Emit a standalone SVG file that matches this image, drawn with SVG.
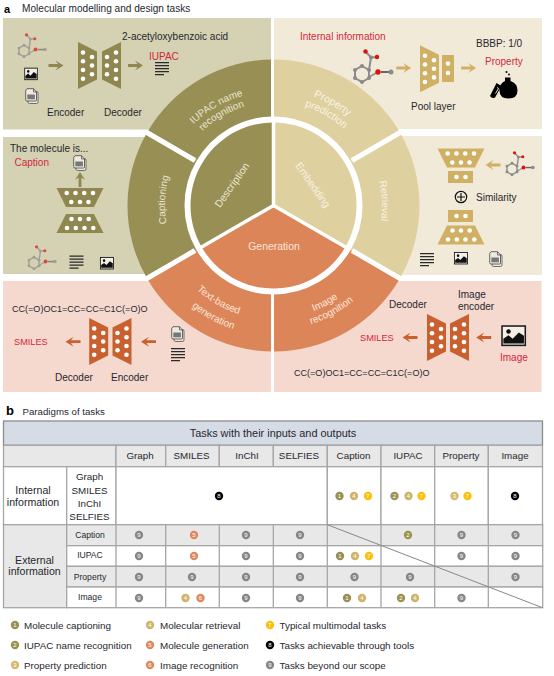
<svg xmlns="http://www.w3.org/2000/svg" width="554" height="676" viewBox="0 0 554 676">
<style>
text{font-family:"Liberation Sans",Arial,sans-serif;fill:#26282e;font-size:10px}
.r{fill:#d2283c}
.m{text-anchor:middle}
.wo{fill:#e9e6cf;text-anchor:middle}
.wt{fill:#f8f3e4;text-anchor:middle}
.wg{fill:#fbe6da;text-anchor:middle}
.o{fill:#988f55}.t{fill:#dfd0a0}.g{fill:#db8558}
.so{fill:#8f8650}.st{fill:#cfb065}.sg{fill:#c9602f}
.cell{fill:#fff;stroke:#a6a6a6;stroke-width:1.3}
.grey{fill:#e8e8e8;stroke:#a6a6a6;stroke-width:1.3}
.th{font-size:9.8px;text-anchor:middle}
.tw{font-size:10.6px;text-anchor:middle}
.rl{font-size:8.6px;text-anchor:middle}
.bn{font-size:6px;fill:#fff;text-anchor:middle}
.c1{fill:#988f55}.c2{fill:#9a9350}.c3{fill:#d8b86f}.c4{fill:#cdb46a}.c5{fill:#df8a5e}.c6{fill:#df8a5e}.c7{fill:#fcc00a}.c8{fill:#000}.c9{fill:#868686}
.lg{font-size:9.85px}
.sm{font-size:9.05px}
</style>
<defs>
<g id="trap"><polygon points="-9.500,-23.500 9.500,-14 9.500,14 -9.500,23.500"/><g fill="#fff"><circle cx="-4.500" cy="-13" r="2.300"/><circle cx="-4.500" cy="-4.200" r="2.300"/><circle cx="-4.500" cy="4.500" r="2.300"/><circle cx="-4.500" cy="13.300" r="2.300"/><circle cx="4.500" cy="-8.500" r="2.300"/><circle cx="4.500" cy="0" r="2.300"/><circle cx="4.500" cy="8.700" r="2.300"/></g></g>
<path id="arr" d="M-7.500-1.400H2L-.5-5L7.500 0L-.5 5L2 1.400H-7.500Z"/>
<g id="mol"><g fill="#e6e0d0"><circle cx="-11" cy="-6" r="1"/><circle cx="-11" cy="7" r="1"/><circle cx="0" cy="12" r="1"/><circle cx="30" cy="-7" r="1"/><circle cx="34" cy="0" r="1"/><circle cx="28" cy="3" r="1"/></g><g fill="none" stroke="#8d8d8d" stroke-width="2"><polygon points="0,-8 7,-4 7,4 0,8 -7,4 -7,-4"/><path d="M7-4L9-16.500M9-16.500L3.500-22.500M9-16.500L15-17"/></g><path d="M7 3L16-2" stroke="#8d8d8d" stroke-width="1.500"/><path d="M19-2H29" stroke="#666" stroke-width="2"/><g fill="#8a8a8a"><circle cx="0" cy="-8" r="2"/><circle cx="7" cy="-4" r="2"/><circle cx="7" cy="4" r="2"/><circle cx="0" cy="8" r="2"/><circle cx="-7" cy="4" r="2"/><circle cx="-7" cy="-4" r="2"/><circle cx="9" cy="-16.500" r="2"/><circle cx="29" cy="-2" r="2.500"/></g><g fill="#e01010"><circle cx="3.500" cy="-22.500" r="2.200"/><circle cx="15" cy="-17" r="2.200"/><circle cx="16" cy="-2" r="2.700"/></g></g>
<g id="img"><rect x="0.700" y="0.700" width="22.600" height="18.600" fill="#f4f0e6" stroke="#1c1c1c" stroke-width="1.500"/><path d="M2 17.500V13L7 9.500L11 13L17 7L22 10V17.500Z" fill="#111"/><circle cx="7" cy="6" r="2.200" fill="#111"/></g>
<g id="doc"><rect x="3" y="3.500" width="10" height="12" rx="1.500" fill="#e8e4d8" stroke="#555" stroke-width=".8"/><path d="M1.500 1.500Q.7 1.500 .7 2.500V11.500Q.7 13 2 13H10.500Q11.500 13 11.500 12V4L8.500 .7H2Z" fill="#eeeae0" stroke="#444" stroke-width=".8"/><rect x="2.300" y="6.500" width="7.600" height="4.800" fill="#777"/><path d="M8.500 .7V4H11.500" fill="none" stroke="#444" stroke-width=".7"/></g>
<g id="lns" stroke="#2a2a2a" stroke-width="1.100"><path d="M0 .6H14M0 3.600H14M0 6.600H14M0 9.600H14M0 12.600H9"/></g>
<path id="a1" d="M174.800 148.500A114 114 0 0 1 273.500 91.500"/>
<path id="a2" d="M184.300 154A103 103 0 0 1 273.500 102.500"/>
<path id="a3" d="M273.500 89.500A116 116 0 0 1 373.960 147.500"/>
<path id="a4" d="M273.500 101.500A104 104 0 0 1 363.570 153.500"/>
<path id="a5" d="M176.800 254.800A108.500 108.500 0 0 1 182.500 146.400"/>
<path id="a6" d="M365.100 147.300A108.500 108.500 0 0 1 369.600 255.700"/>
<path id="a7" d="M174.800 262.500A114 114 0 0 0 273.500 319.500"/>
<path id="a8" d="M162.600 273.400A130 130 0 0 0 276.900 335.500"/>
<path id="a9" d="M269.200 318.400A113 113 0 0 0 369.100 265.700"/>
<path id="a10" d="M270.900 330A124.500 124.500 0 0 0 379.900 270"/>
</defs>
<rect width="554" height="676" fill="#fff"/>

<g id="header-a"><text x="4" y="12.500" style="font-weight:700;font-size:11px;fill:#000">a</text><text x="22" y="12" style="font-size:10.100px">Molecular modelling and design tasks</text></g>

<g id="panels">
<rect x="3" y="18" width="268" height="111.500" fill="#d5d1b3"/>
<rect x="3" y="137" width="268" height="137" fill="#d5d1b3"/>
<rect x="274" y="18" width="268" height="111" fill="#f2ead9"/>
<rect x="274" y="136" width="268" height="139" fill="#f2ead9"/>
<rect x="3" y="281" width="268" height="111" fill="#f5d9ce"/>
<rect x="274" y="281" width="267.500" height="111" fill="#f5d9ce"/>
</g>

<g id="wheel">
<circle cx="273.500" cy="205.500" r="92" fill="#fff"/>
<path id="sector-iupac" class="o" d="M147.060 132.500A146 146 0 0 1 273.500 59.500V116.500A89 89 0 0 0 196.420 161Z"/>
<path id="sector-captioning" class="o" d="M147.060 132.500A146 146 0 0 0 147.060 278.500L196.420 250A89 89 0 0 1 196.420 161Z"/>
<path id="sector-property" class="t" d="M273.500 59.500A146 146 0 0 1 399.940 132.500L350.580 161A89 89 0 0 0 273.500 116.500Z"/>
<path id="sector-retrieval" class="t" d="M399.940 132.500A146 146 0 0 1 399.940 278.500L350.580 250A89 89 0 0 0 350.580 161Z"/>
<path id="sector-text" class="g" d="M147.060 278.500A146 146 0 0 0 273.500 351.500V294.500A89 89 0 0 1 196.420 250Z"/>
<path id="sector-image" class="g" d="M273.500 351.500A146 146 0 0 0 399.940 278.500L350.580 250A89 89 0 0 1 273.500 294.500Z"/>
<path id="disc-description" class="o" d="M273.500 205.500V122.500A83 83 0 0 0 201.620 247Z"/>
<path id="disc-embedding" class="t" d="M273.500 205.500V122.500A83 83 0 0 1 345.380 247Z"/>
<path id="disc-generation" class="g" d="M273.500 205.500L345.380 247A83 83 0 0 1 201.620 247Z"/>
</g>
<g id="connectors-gaps" stroke="#fff" fill="none">
<path stroke-width="5" d="M195 160.500L146 132M352 160.500L401 132M195 250.500L146 279M352 250.500L401 279"/>
<path stroke-width="3" d="M272.500 55V118M272.500 293V356"/>
<path stroke-width="3.500" d="M273.500 205.500L199 248.500M273.500 205.500L348 248.500M273.500 120V205.500"/>
</g>
<g id="wheel-labels">
<text class="wo"><textPath href="#a1" startOffset="50%">IUPAC name</textPath></text>
<text class="wo"><textPath href="#a2" startOffset="50%">recognition</textPath></text>
<text class="wo"><textPath href="#a5" startOffset="50%">Captioning</textPath></text>
<text class="wt" style="font-size:10.500px"><textPath href="#a3" startOffset="50%">Property</textPath></text>
<text class="wt" style="font-size:10.500px"><textPath href="#a4" startOffset="50%">prediction</textPath></text>
<text class="wt"><textPath href="#a6" startOffset="50%">Retrieval</textPath></text>
<text class="wg"><textPath href="#a7" startOffset="50%">Text-based</textPath></text>
<text class="wg"><textPath href="#a8" startOffset="50%">generation</textPath></text>
<text class="wg"><textPath href="#a9" startOffset="50%">Image</textPath></text>
<text class="wg"><textPath href="#a10" startOffset="50%">recognition</textPath></text>
<text class="wo" transform="translate(234.900,187) rotate(-55)" style="font-size:10.400px">Description</text>
<text class="wt" transform="translate(310,187) rotate(55)" style="font-size:10.400px">Embedding</text>
<text class="wg" x="274" y="249.500" style="font-size:10.400px">Generation</text>
</g>

<g id="node-iupac-task">
<use href="#mol" transform="translate(24,51) scale(.72)" opacity=".7"/>
<use href="#img" transform="translate(24.300,67.700) scale(.56,.62)"/>
<use href="#doc" transform="translate(25,88)"/>
<use href="#arr" class="so" x="56" y="65.500"/>
<use href="#trap" class="so" transform="translate(87.500,65.500)"/>
<use href="#trap" class="so" transform="translate(111.500,65.500) scale(-1,1)"/>
<use href="#arr" class="so" x="135.500" y="65.500"/>
<use href="#lns" transform="translate(155,62)"/>
<text x="122" y="40">2-acetyloxybenzoic acid</text>
<text class="r" x="149" y="60">IUPAC</text>
<text x="47" y="116">Encoder</text>
<text x="104" y="116">Decoder</text>
</g>
<g id="node-caption-task">
<text x="10" y="152">The molecule is...</text>
<text class="r" x="14.500" y="166">Caption</text>
<use href="#doc" transform="translate(73,155)"/>
<use href="#arr" class="so" transform="translate(80,179.500) rotate(-90)"/>
<use href="#trap" class="so" transform="translate(80,197.500) rotate(90)"/>
<use href="#trap" class="so" transform="translate(80,223.500) rotate(-90)"/>
<use href="#mol" transform="translate(34,263) scale(.72)" opacity=".7"/>
<use href="#lns" transform="translate(69.500,255.500)"/>
<use href="#img" transform="translate(100,257) scale(.58,.62)"/>
</g>
<g id="node-property-task">
<text class="r" x="300" y="40">Internal information</text>
<use href="#mol" transform="translate(362,74)"/>
<use href="#arr" class="st" x="403.700" y="68"/>
<use href="#trap" class="st" transform="translate(429.500,68.700)"/>
<rect class="st" x="442" y="55" width="12" height="27"/>
<circle cx="448" cy="63.500" r="2.300" fill="#fff"/><circle cx="448" cy="73" r="2.300" fill="#fff"/>
<use href="#arr" class="st" x="468.700" y="68"/>
<text x="476" y="47">BBBP: 1/0</text>
<text class="r" x="485" y="65">Property</text>
<path d="M505 77.500h5.500v3.500q7 2.500 7 9.500q0 8-9 8q-9 0-9-8q0-7 5.500-9.500z" fill="#000"/>
<path d="M496.500 83l5 3l-6.500 11.500q-3 1.500-5-1.500z" fill="#000"/>
<path d="M497 87.500l1.500 1l-3 5" stroke="#f2ead9" stroke-width="1" fill="none"/>
<circle cx="506.500" cy="72" r="1" fill="#000"/><circle cx="509" cy="74.500" r=".9" fill="#000"/>
<text x="411" y="110">Pool layer</text>
</g>
<g id="node-retrieval-task">
<use href="#trap" class="st" transform="translate(461,158) rotate(90)" />
<rect class="st" x="448" y="171" width="25" height="12"/>
<circle cx="456.500" cy="177" r="2.300" fill="#fff"/><circle cx="465.500" cy="177" r="2.300" fill="#fff"/>
<use href="#arr" class="st" transform="translate(493,165) scale(-1,1)"/>
<use href="#mol" transform="translate(512,169) scale(.72)"/>
<circle cx="461" cy="197" r="5.700" fill="none" stroke="#111" stroke-width="1.200"/><path d="M461 193V201M457 197H465" stroke="#111" stroke-width="1.200"/>
<text x="476" y="201">Similarity</text>
<rect class="st" x="448" y="210" width="25" height="12"/>
<circle cx="456.500" cy="216" r="2.300" fill="#fff"/><circle cx="465.500" cy="216" r="2.300" fill="#fff"/>
<use href="#trap" class="st" transform="translate(461,235) rotate(-90)"/>
<use href="#lns" transform="translate(420,253)"/>
<use href="#img" transform="translate(454,252) scale(.58,.62)"/>
<use href="#doc" transform="translate(489,251)"/>
</g>
<g id="node-text-generation-task">
<text class="sm" x="12" y="312">CC(=O)OC1=CC=CC=C1C(=O)O</text>
<text class="r" x="14" y="345" style="font-size:9.200px">SMILES</text>
<use href="#arr" class="sg" transform="translate(73,341.700) scale(-1,1)"/>
<use href="#trap" class="sg" transform="translate(98.700,341.500)"/>
<use href="#trap" class="sg" transform="translate(122,341.500) scale(-1,1)"/>
<use href="#arr" class="sg" transform="translate(148.500,341.700) scale(-1,1)"/>
<use href="#doc" transform="translate(171,326)"/>
<use href="#lns" transform="translate(171,348)"/>
<text x="55" y="381">Decoder</text>
<text x="111" y="381">Encoder</text>
</g>
<g id="node-image-recognition-task">
<text x="389" y="308">Decoder</text>
<text x="458" y="298">Image</text>
<text x="458" y="309.500">encoder</text>
<text class="r" x="360" y="341" style="font-size:9.200px">SMILES</text>
<use href="#arr" class="sg" transform="translate(410,337.500) scale(-1,1)"/>
<use href="#trap" class="sg" transform="translate(436.500,337.500)"/>
<use href="#trap" class="sg" transform="translate(459.500,337.500) scale(-1,1)"/>
<use href="#arr" class="sg" transform="translate(483.700,337.500) scale(-1,1)"/>
<use href="#img" transform="translate(501.300,325.300) scale(1.030,1.040)"/>
<text class="r" x="500" y="361">Image</text>
<text class="sm" x="294" y="376">CC(=O)OC1=CC=CC=C1C(=O)O</text>
</g>

<g id="header-b"><text x="6" y="415" style="font-weight:700;font-size:13px;fill:#000">b</text><text x="22.500" y="415" style="font-size:9.700px">Paradigms of tasks</text></g>

<g id="table">
<rect x="3.500" y="421" width="539" height="24.300" fill="#d6dce5" stroke="#8c8c8c" stroke-width="1.300"/>
<text class="m" x="273" y="437" style="font-size:10.900px">Tasks with their inputs and outputs</text>
<g id="row-head">
<rect class="grey" x="3.500" y="445.300" width="112.500" height="21.400"/>
<rect class="grey" x="116" y="445.300" width="49.700" height="21.400"/><rect class="grey" x="165.700" y="445.300" width="53.600" height="21.400"/><rect class="grey" x="219.300" y="445.300" width="54" height="21.400"/><rect class="grey" x="273.300" y="445.300" width="54" height="21.400"/><rect class="grey" x="327.300" y="445.300" width="53.700" height="21.400"/><rect class="grey" x="381" y="445.300" width="53.700" height="21.400"/><rect class="grey" x="434.700" y="445.300" width="53.600" height="21.400"/><rect class="grey" x="488.300" y="445.300" width="54.200" height="21.400"/>
<text class="th" x="140" y="459">Graph</text><text class="th" x="191.500" y="459">SMILES</text><text class="th" x="247" y="459">InChI</text><text class="th" x="299" y="459">SELFIES</text><text class="th" x="353.500" y="459">Caption</text><text class="th" x="408" y="459">IUPAC</text><text class="th" x="461" y="459">Property</text><text class="th" x="515" y="459">Image</text>
</g>
<g id="row-internal">
<rect class="cell" x="3.500" y="466.700" width="63.200" height="58"/><rect class="cell" x="66.700" y="466.700" width="49.300" height="58"/><rect class="cell" x="116" y="466.700" width="211.300" height="58"/><rect class="cell" x="327.300" y="466.700" width="53.700" height="58"/><rect class="cell" x="381" y="466.700" width="53.700" height="58"/><rect class="cell" x="434.700" y="466.700" width="53.600" height="58"/><rect class="cell" x="488.300" y="466.700" width="54.200" height="58"/>
<text class="tw" x="33" y="494">Internal</text><text class="tw" x="33" y="506">information</text>
<text class="th" x="89.500" y="480">Graph</text><text class="th" x="89.500" y="494">SMILES</text><text class="th" x="89.500" y="507">InChI</text><text class="th" x="89.500" y="520">SELFIES</text>
</g>
<g id="row-external">
<rect class="grey" x="3.500" y="524.700" width="63.200" height="83" />
<text class="tw" x="34.500" y="564">External</text><text class="tw" x="34.500" y="575">information</text>
<rect class="grey" x="66.700" y="524.700" width="476" height="21"/>
<rect class="cell" x="66.700" y="545.700" width="476" height="20.600"/>
<rect class="grey" x="66.700" y="566.300" width="476" height="20.700"/>
<rect class="cell" x="66.700" y="587" width="476" height="20.700"/>
<path d="M116 524.700V607.700M165.700 524.700V607.700M219.300 524.700V607.700M273.300 524.700V607.700M327.300 524.700V607.700M381 524.700V607.700M434.700 524.700V607.700M488.300 524.700V607.700" stroke="#a6a6a6" stroke-width="1.300" fill="none"/>
<path d="M327.300 524.700L542.500 607.700" stroke="#888" stroke-width="1" fill="none"/>
<text class="rl" x="90" y="538">Caption</text><text class="rl" x="90" y="558">IUPAC</text><text class="rl" x="90" y="580">Property</text><text class="rl" x="90" y="600">Image</text>
</g>
<g id="badges">
<g id="b-internal">
<circle class="c8" cx="219" cy="496" r="4.200"/><text class="bn" x="219" y="498.200">8</text>
<circle class="c1" cx="339.500" cy="496" r="4.200"/><text class="bn" x="339.500" y="498.200">1</text>
<circle class="c4" cx="354" cy="496" r="4.200"/><text class="bn" x="354" y="498.200">4</text>
<circle class="c7" cx="368" cy="496" r="4.200"/><text class="bn" x="368" y="498.200">7</text>
<circle class="c2" cx="394.500" cy="496" r="4.200"/><text class="bn" x="394.500" y="498.200">2</text>
<circle class="c4" cx="408.500" cy="496" r="4.200"/><text class="bn" x="408.500" y="498.200">4</text>
<circle class="c7" cx="421.500" cy="496" r="4.200"/><text class="bn" x="421.500" y="498.200">7</text>
<circle class="c3" cx="454.500" cy="496" r="4.200"/><text class="bn" x="454.500" y="498.200">3</text>
<circle class="c7" cx="467.500" cy="496" r="4.200"/><text class="bn" x="467.500" y="498.200">7</text>
<circle class="c8" cx="515" cy="496" r="4.200"/><text class="bn" x="515" y="498.200">8</text>
</g>
<g id="b-caption">
<circle class="c9" cx="139" cy="535" r="4.200"/><text class="bn" x="139" y="537.200">9</text>
<circle class="c5" cx="194" cy="535" r="4.200"/><text class="bn" x="194" y="537.200">5</text>
<circle class="c9" cx="246" cy="535" r="4.200"/><text class="bn" x="246" y="537.200">9</text>
<circle class="c9" cx="300" cy="535" r="4.200"/><text class="bn" x="300" y="537.200">9</text>
<circle class="c2" cx="408" cy="535" r="4.200"/><text class="bn" x="408" y="537.200">2</text>
<circle class="c9" cx="461.500" cy="535" r="4.200"/><text class="bn" x="461.500" y="537.200">9</text>
<circle class="c9" cx="515.500" cy="535" r="4.200"/><text class="bn" x="515.500" y="537.200">9</text>
</g>
<g id="b-iupac">
<circle class="c9" cx="139" cy="556" r="4.200"/><text class="bn" x="139" y="558.200">9</text>
<circle class="c5" cx="194" cy="556" r="4.200"/><text class="bn" x="194" y="558.200">5</text>
<circle class="c9" cx="246" cy="556" r="4.200"/><text class="bn" x="246" y="558.200">9</text>
<circle class="c9" cx="300" cy="556" r="4.200"/><text class="bn" x="300" y="558.200">9</text>
<circle class="c1" cx="340" cy="556" r="4.200"/><text class="bn" x="340" y="558.200">1</text>
<circle class="c4" cx="355" cy="556" r="4.200"/><text class="bn" x="355" y="558.200">4</text>
<circle class="c7" cx="369" cy="556" r="4.200"/><text class="bn" x="369" y="558.200">7</text>
<circle class="c9" cx="461.500" cy="556" r="4.200"/><text class="bn" x="461.500" y="558.200">9</text>
<circle class="c9" cx="515.500" cy="556" r="4.200"/><text class="bn" x="515.500" y="558.200">9</text>
</g>
<g id="b-property">
<circle class="c9" cx="139" cy="577" r="4.200"/><text class="bn" x="139" y="579.200">9</text>
<circle class="c9" cx="192" cy="577" r="4.200"/><text class="bn" x="192" y="579.200">9</text>
<circle class="c9" cx="246" cy="577" r="4.200"/><text class="bn" x="246" y="579.200">9</text>
<circle class="c9" cx="300" cy="577" r="4.200"/><text class="bn" x="300" y="579.200">9</text>
<circle class="c9" cx="354.500" cy="577" r="4.200"/><text class="bn" x="354.500" y="579.200">9</text>
<circle class="c9" cx="410" cy="577" r="4.200"/><text class="bn" x="410" y="579.200">9</text>
<circle class="c9" cx="515.500" cy="577" r="4.200"/><text class="bn" x="515.500" y="579.200">9</text>
</g>
<g id="b-image">
<circle class="c9" cx="139" cy="598" r="4.200"/><text class="bn" x="139" y="600.200">9</text>
<circle class="c4" cx="185.500" cy="598" r="4.200"/><text class="bn" x="185.500" y="600.200">4</text>
<circle class="c6" cx="200.500" cy="598" r="4.200"/><text class="bn" x="200.500" y="600.200">6</text>
<circle class="c9" cx="246" cy="598" r="4.200"/><text class="bn" x="246" y="600.200">9</text>
<circle class="c9" cx="300" cy="598" r="4.200"/><text class="bn" x="300" y="600.200">9</text>
<circle class="c1" cx="347" cy="598" r="4.200"/><text class="bn" x="347" y="600.200">1</text>
<circle class="c4" cx="362" cy="598" r="4.200"/><text class="bn" x="362" y="600.200">4</text>
<circle class="c2" cx="401" cy="598" r="4.200"/><text class="bn" x="401" y="600.200">2</text>
<circle class="c4" cx="415" cy="598" r="4.200"/><text class="bn" x="415" y="600.200">4</text>
<circle class="c9" cx="461.500" cy="598" r="4.200"/><text class="bn" x="461.500" y="600.200">9</text>
</g>
</g>
</g>

<g id="legend">
<circle class="c1" cx="15" cy="625" r="4.200"/><text class="bn" x="15" y="627.200">1</text><text class="lg" x="24" y="628.500">Molecule captioning</text>
<circle class="c2" cx="15" cy="645" r="4.200"/><text class="bn" x="15" y="647.200">2</text><text class="lg" x="24" y="648.500">IUPAC name recognition</text>
<circle class="c3" cx="15" cy="665" r="4.200"/><text class="bn" x="15" y="667.200">3</text><text class="lg" x="24" y="668.500">Property prediction</text>
<circle class="c4" cx="150" cy="625" r="4.200"/><text class="bn" x="150" y="627.200">4</text><text class="lg" x="160" y="628.500">Molecular retrieval</text>
<circle class="c5" cx="150" cy="645" r="4.200"/><text class="bn" x="150" y="647.200">5</text><text class="lg" x="160" y="648.500">Molecule generation</text>
<circle class="c6" cx="150" cy="665" r="4.200"/><text class="bn" x="150" y="667.200">6</text><text class="lg" x="160" y="668.500">Image recognition</text>
<circle class="c7" cx="270" cy="625" r="4.200"/><text class="bn" x="270" y="627.200">7</text><text class="lg" x="279.500" y="628.500">Typical multimodal tasks</text>
<circle class="c8" cx="270" cy="645" r="4.200"/><text class="bn" x="270" y="647.200">8</text><text class="lg" x="279.500" y="648.500">Tasks achievable through tools</text>
<circle class="c9" cx="270" cy="665" r="4.200"/><text class="bn" x="270" y="667.200">9</text><text class="lg" x="279.500" y="668.500">Tasks beyond our scope</text>
</g>
</svg>
